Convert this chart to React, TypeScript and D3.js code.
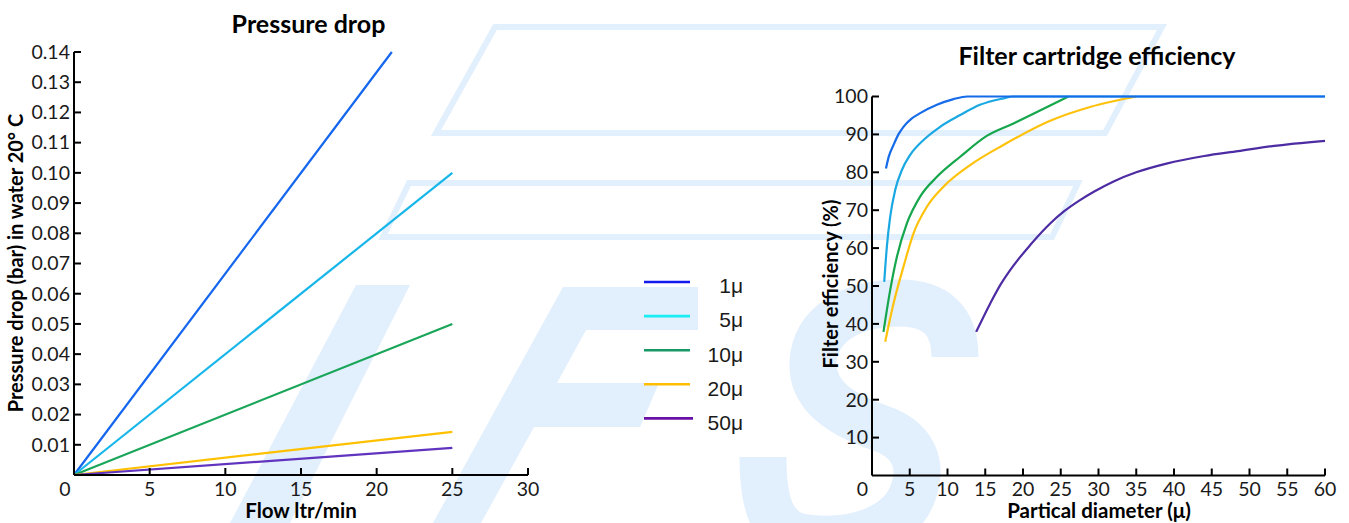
import React from "react";
import * as d3 from "d3";

// ---------- data ----------
const seriesNames = ["1μ", "5μ", "10μ", "20μ", "50μ"];

// Pressure drop (bar) vs flow (ltr/min)
const pd1: [number, number][] = [[0, 0], [21, 0.14]];
const pd5: [number, number][] = [[0, 0], [25, 0.1]];
const pd10: [number, number][] = [[0, 0], [25, 0.05]];
const pd20: [number, number][] = [[0, 0], [25, 0.0143]];
const pd50: [number, number][] = [[0, 0], [25, 0.009]];

// Filter efficiency (%) vs particle diameter (μ)
const eff1: [number, number][] = [[1.85, 81], [2.2, 84], [2.85, 87.2], [3.5, 90], [4.17, 92], [5.2, 94.1], [6.38, 95.6], [8.6, 97.8], [10.8, 99.3], [12.6, 100], [60, 100]];
const eff5: [number, number][] = [[1.62, 51.1], [1.97, 60.4], [2.41, 68.3], [3.07, 75.3], [3.96, 80.6], [5.06, 84.6], [6.82, 88.5], [9.03, 92], [11.68, 95.1], [14.3, 97.8], [17.4, 99.5], [18.7, 100], [60, 100]];
const eff10: [number, number][] = [[1.52, 37.9], [2.41, 48.9], [3.3, 57.7], [4.62, 66.5], [6.38, 73.6], [8.6, 78.8], [11.68, 84.1], [15.2, 89.6], [18.74, 92.9], [23.6, 97.6], [26, 100]];
const eff20: [number, number][] = [[1.75, 35.3], [2.85, 45.4], [4.17, 55.1], [5.5, 63.9], [7.27, 70.9], [9.47, 76.2], [13, 81.9], [17.4, 87.2], [23.6, 93.6], [29, 97.3], [35, 100]];
const eff50: [number, number][] = [[13.8, 37.9], [15.66, 45.4], [17, 50.3], [18.3, 54.2], [20.95, 60.8], [23.6, 66.5], [25.5, 69.8], [27.5, 72.6], [29.5, 75], [32, 77.6], [35, 80], [39, 82.3], [44, 84.3], [48.5, 85.6], [53, 86.9], [60, 88.3]];

const flowTicks = [0, 5, 10, 15, 20, 25, 30];
const pdTicks = [0.01, 0.02, 0.03, 0.04, 0.05, 0.06, 0.07, 0.08, 0.09, 0.1, 0.11, 0.12, 0.13, 0.14];
const diaTicks = [0, 5, 10, 15, 20, 25, 30, 35, 40, 45, 50, 55, 60];
const effTicks = [10, 20, 30, 40, 50, 60, 70, 80, 90, 100];

// ---------- styles ----------
const pdColors = ["#1466ee", "#17b6ea", "#19a659", "#ffc000", "#6034bf"];
const effColors = ["#156be9", "#1aa8e3", "#16a64c", "#ffc20c", "#4d2ba3"];
const legendColors = ["#1218ee", "#18eef4", "#179866", "#ffbe00", "#6a10a6"];
const WM = "#e2effd";
const FONT = "Lato, 'Open Sans', sans-serif";
const TXT = "#1a1a1a";

export default function App() {
  const W = 1349, H = 523;

  const xL = d3.scaleLinear().domain([0, 30]).range([74, 528]);
  const yL = d3.scaleLinear().domain([0, 0.14]).range([475, 52]);
  const xR = d3.scaleLinear().domain([0, 60]).range([872, 1325]);
  const yR = d3.scaleLinear().domain([0, 100]).range([475.5, 96.5]);

  const lineL = d3.line<[number, number]>().x((d) => xL(d[0])).y((d) => yL(d[1]));
  const lineR = d3.line<[number, number]>().x((d) => xR(d[0])).y((d) => yR(d[1])).curve(d3.curveMonotoneX);

  const pdSeries = [pd1, pd5, pd10, pd20, pd50];
  const effSeries = [eff1, eff5, eff10, eff20, eff50];

  const tickLen = 7;
  const tickFont = 19.5;

  return (
    <svg width={W} height={H} style={{ position: "absolute", left: 0, top: 0, background: "#fff" }}>
      {/* watermark */}
      <g>
        <polygon points="495,27 1162,27 1105,133 436,133" fill="none" stroke={WM} strokeWidth={6} />
        <polygon points="409,183 1078,183 1052,237 383,237" fill="none" stroke={WM} strokeWidth={6} />
        <polygon points="356,285 410,285 290,523 230,523" fill={WM} />
        <polygon points="563,287 698,287 698,330 586,330 557,383 659,383 640,427 534,427 481,523 433,523" fill={WM} />
        <path d="M 955 357 C 955 320, 935 303, 900 303 C 850 303, 815 325, 813 362 C 811 400, 850 418, 880 428 C 915 440, 922 465, 914 490 C 902 530, 850 545, 800 537 C 770 530, 763 500, 763 457" fill="none" stroke={WM} strokeWidth={47} />
      </g>

      {/* ---------- left chart ---------- */}
      <text x={308.5} y={33} textAnchor="middle" fontFamily={FONT} fontWeight="bold" fontSize={25} fill="#000">Pressure drop</text>
      {pdSeries.map((s, i) => (
        <path key={i} d={lineL(s) || ""} fill="none" stroke={pdColors[i]} strokeWidth={2.2} />
      ))}
      <line x1={xL(0)} x2={xL(0)} y1={yL(0)} y2={yL(0.14)} stroke="#000" strokeWidth={2} />
      <line x1={xL(0)} x2={xL(30)} y1={yL(0)} y2={yL(0)} stroke="#000" strokeWidth={2} />
      {pdTicks.map((t) => (
        <g key={t}>
          <line x1={xL(0)} x2={xL(0) + tickLen} y1={yL(t)} y2={yL(t)} stroke="#000" strokeWidth={2} />
          <text x={xL(0) - 4} y={yL(t)} dy="0.35em" textAnchor="end" fontFamily={FONT} fontSize={tickFont} fill={TXT}>{t.toFixed(2)}</text>
        </g>
      ))}
      {flowTicks.map((t) => (
        <g key={t}>
          {t > 0 && <line x1={xL(t)} x2={xL(t)} y1={yL(0)} y2={yL(0) - tickLen} stroke="#000" strokeWidth={2} />}
          <text x={xL(t) - (t === 0 ? 9 : 0)} y={496} textAnchor="middle" fontFamily={FONT} fontSize={tickFont} fill={TXT}>{t}</text>
        </g>
      ))}
      <text x={301} y={518} textAnchor="middle" fontFamily={FONT} fontWeight="bold" fontSize={20.5} fill="#000">Flow ltr/min</text>
      <text transform="translate(23,263) rotate(-90)" textAnchor="middle" fontFamily={FONT} fontWeight="bold" fontSize={20} fill="#000">Pressure drop (bar) in water 20° C</text>

      {/* ---------- legend ---------- */}
      {seriesNames.map((n, i) => {
        const y = 282 + i * 34.1;
        return (
          <g key={n}>
            <line x1={644} x2={i === 4 ? 693 : 690} y1={y} y2={y} stroke={legendColors[i]} strokeWidth={2.6} />
            <text x={743} y={y + 4} dy="0.35em" textAnchor="end" fontFamily="'Liberation Sans', Arial, sans-serif" fontSize={21} fill={TXT}>{n}</text>
          </g>
        );
      })}

      {/* ---------- right chart ---------- */}
      <text x={1097} y={65} textAnchor="middle" fontFamily={FONT} fontWeight="bold" fontSize={25} fill="#000">Filter cartridge efficiency</text>
      {effSeries.map((s, i) => ({ s, i })).reverse().map(({ s, i }) => (
        <path key={i} d={lineR(s) || ""} fill="none" stroke={effColors[i]} strokeWidth={2.2} />
      ))}
      <line x1={xR(0)} x2={xR(0)} y1={yR(0)} y2={yR(100)} stroke="#000" strokeWidth={2} />
      <line x1={xR(0)} x2={xR(60)} y1={yR(0)} y2={yR(0)} stroke="#000" strokeWidth={2} />
      {effTicks.map((t) => (
        <g key={t}>
          <line x1={xR(0)} x2={xR(0) + tickLen} y1={yR(t)} y2={yR(t)} stroke="#000" strokeWidth={2} />
          <text x={xR(0) - 4} y={yR(t)} dy="0.35em" textAnchor="end" fontFamily={FONT} fontSize={tickFont} fill={TXT}>{t}</text>
        </g>
      ))}
      {diaTicks.map((t) => (
        <g key={t}>
          {t > 0 && <line x1={xR(t)} x2={xR(t)} y1={yR(0)} y2={yR(0) - tickLen} stroke="#000" strokeWidth={2} />}
          <text x={xR(t) - (t === 0 ? 9.5 : 0)} y={496} textAnchor="middle" fontFamily={FONT} fontSize={tickFont} fill={TXT}>{t}</text>
        </g>
      ))}
      <text x={1099} y={518} textAnchor="middle" fontFamily={FONT} fontWeight="bold" fontSize={20.5} fill="#000">Partical diameter (μ)</text>
      <text transform="translate(838,284) rotate(-90)" textAnchor="middle" fontFamily={FONT} fontWeight="bold" fontSize={20} fill="#000">Filter efficiency (%)</text>
    </svg>
  );
}
